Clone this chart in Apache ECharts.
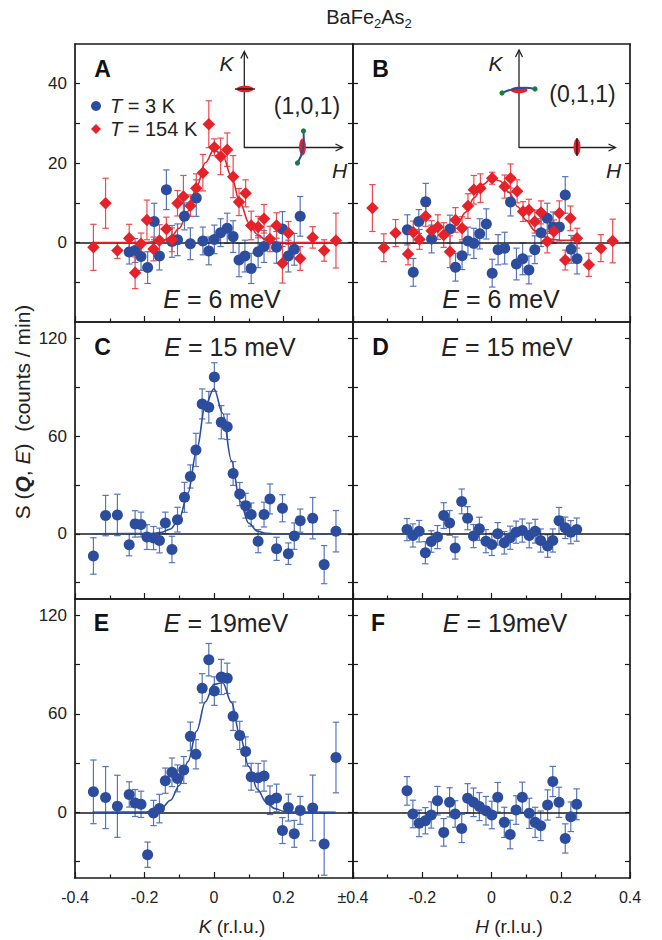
<!DOCTYPE html>
<html><head><meta charset="utf-8">
<script src="https://cdn.jsdelivr.net/npm/echarts@6/dist/echarts.min.js"></script>
<style>html,body{margin:0;padding:0;background:#fff}#c{width:662px;height:940px}</style>
</head><body><div id="c"></div>
<script>
// ---------- DATA ----------
// Panel A (K scan, E = 6 meV)
const kA_red = [-0.347,-0.312,-0.278,-0.244,-0.227,-0.210,-0.193,-0.174,-0.157,-0.137,-0.121,-0.105,-0.088,-0.068,-0.051,-0.032,-0.015,0.001,0.019,0.038,0.055,0.072,0.091,0.107,0.127,0.144,0.161,0.180,0.197,0.214,0.248,0.284,0.317,0.351];
const vA_red = [-1.2,9.9,-2.0,1.1,-7.6,-0.3,5.7,-1.6,0.5,3.4,0.7,9.9,11.6,9.3,13.7,17.6,29.8,24.0,21.7,23.4,16.6,10.2,12.4,4.3,3.9,6.0,0.9,4.3,-5.2,2.4,-4.0,1.3,-2.0,0.5];
const eA_red = [5.8,6.3,2.0,3.5,4.0,2.7,5.0,3.0,4.0,3.0,3.0,3.2,5.3,2.7,3.6,4.6,5.9,2.1,4.6,4.2,5.3,3.4,3.4,3.6,2.7,3.6,3.2,3.2,5.0,2.9,3.0,2.7,2.7,6.9];
const kA_blue = [-0.244,-0.227,-0.210,-0.191,-0.172,-0.157,-0.137,-0.121,-0.105,-0.085,-0.068,-0.051,-0.032,-0.015,0.001,0.019,0.038,0.055,0.072,0.089,0.107,0.127,0.144,0.180,0.197,0.214,0.231,0.248];
const vA_blue = [-2.4,-2.0,-3.5,-6.3,5.3,-3.4,13.3,0.3,0.7,6.6,-0.3,11.2,0.4,-2.1,0.8,2.5,3.6,1.5,-4.4,-3.4,-6.5,-2.3,-1.0,-1.2,3.4,-3.4,-1.7,6.6];
const eA_blue = [3.0,3.0,3.5,4.0,4.6,3.5,5.0,4.0,4.0,3.4,4.0,4.6,3.5,3.5,3.6,3.5,3.8,4.0,4.2,4.0,3.8,4.0,4.0,4.0,4.4,4.0,4.0,5.0];
const kA_fit = [-0.35,-0.2,-0.15,-0.125,-0.1,-0.075,-0.05,-0.025,0,0.025,0.05,0.075,0.1,0.125,0.15,0.175,0.2,0.35];
const vA_fit = [0,0,0.4,1.3,3.6,7.9,14.0,20.1,23.4,22.0,16.6,10.1,5.0,2.0,0.6,0.2,0,0];
// Panel B (H scan, E = 6 meV)
const hB_red = [-0.344,-0.311,-0.277,-0.241,-0.226,-0.208,-0.190,-0.173,-0.155,-0.138,-0.120,-0.104,-0.085,-0.068,-0.051,-0.032,0.002,0.038,0.055,0.074,0.091,0.108,0.125,0.143,0.161,0.180,0.196,0.213,0.228,0.247,0.281,0.316,0.350];
const vB_red = [8.7,-1.3,2.4,-2.9,2.6,0.8,6.6,3.0,3.9,1.9,-2.3,5.7,3.6,9.2,13.3,13.7,16.2,14.1,16.2,12.9,7.8,8.2,5.3,7.6,0.3,2.8,7.4,-4.4,6.1,1.1,-5.6,-1.4,0.4];
const eB_red = [5.9,3.5,3.4,2.7,2.8,2.5,2.5,2.5,3.1,3.1,4.0,3.1,2.9,3.1,3.6,3.6,1.5,2.9,3.6,2.9,2.5,2.7,2.9,2.9,2.9,2.9,3.1,2.5,3.1,2.5,2.9,3.4,5.5];
const hB_blue = [-0.243,-0.226,-0.210,-0.190,-0.173,-0.120,-0.104,-0.085,-0.068,-0.051,-0.034,-0.015,0.002,0.019,0.038,0.055,0.072,0.090,0.108,0.125,0.143,0.161,0.178,0.196,0.213,0.230,0.247];
const vB_blue = [3.2,-7.5,5.3,10.3,0.9,3.4,-6.2,-3.3,0.4,-0.2,2.2,4.7,-7.7,-1.8,-1.4,10.2,-5.4,-4.1,-6.9,-1.8,2.5,6.1,3.9,3.9,12.0,-1.7,-4.1];
const eB_blue = [3.8,3.5,3.0,4.6,3.5,3.5,3.5,3.5,3.5,3.8,3.8,3.8,3.5,3.8,4.0,3.5,4.0,4.0,3.5,3.5,3.5,3.8,3.8,3.5,4.6,3.5,3.8];
const hB_fit = [-0.13,-0.1,-0.075,-0.05,-0.025,0,0.025,0.05,0.075,0.1,0.125,0.15,0.175,0.2,0.247];
const vB_fit = [1.8,4.4,7.6,11.3,14.6,16.2,15.5,12.7,9.1,5.6,3.0,1.5,0.8,0.6,0.6];
// Panel C (K scan, E = 15 meV)
const kC = [-0.347,-0.312,-0.278,-0.244,-0.227,-0.210,-0.193,-0.174,-0.157,-0.140,-0.121,-0.105,-0.085,-0.068,-0.052,-0.034,-0.015,0.001,0.021,0.038,0.055,0.074,0.091,0.107,0.127,0.144,0.161,0.180,0.197,0.214,0.231,0.248,0.284,0.317,0.351];
const vC = [-13.6,11.2,11.6,-6.7,6.1,5.7,-2.0,-2.6,-4.1,6.7,-9.6,8.7,22.4,35.2,51.5,79.7,77.7,96.2,68.5,65.7,37.0,24.4,17.3,11.8,-4.5,11.8,21.4,-9.2,15.7,-12.2,-1.4,8.1,9.6,-18.9,1.6];
const eC = [11.2,12.4,12.7,6.8,8.1,7.6,7.6,7.1,7.6,6.6,8.1,7.6,9.2,7.1,10.2,9.2,9.7,8.8,10.2,7.8,7.3,7.1,7.6,7.1,7.1,7.6,9.2,7.1,8.3,6.6,8.1,7.1,12.7,11.7,12.7];
const kC_fit = [-0.35,-0.175,-0.15,-0.125,-0.1,-0.075,-0.05,-0.025,0,0.025,0.05,0.075,0.1,0.125,0.15,0.175,0.35];
const vC_fit = [0,0.2,1.0,3.0,9.5,25,51,79,89,74,45,20,6.5,1.6,0.3,0,0];
// Panel D (H scan, E = 15 meV)
const hD = [-0.244,-0.227,-0.209,-0.191,-0.174,-0.156,-0.138,-0.121,-0.105,-0.086,-0.069,-0.052,-0.035,-0.016,0.001,0.018,0.037,0.054,0.071,0.089,0.109,0.126,0.142,0.162,0.177,0.195,0.213,0.229,0.246];
const vD = [2.6,-1.0,1.6,-11.6,-4.7,-2.0,11.2,6.7,-8.7,19.9,9.6,-1.4,3.1,-4.5,-6.5,0,-5.5,-2.4,1.0,2.0,-1.0,1.6,-4.1,-7.5,-4.1,8.1,3.7,1.0,2.6];
const eD = [6.8,7.1,6.6,6.8,6.6,7.1,7.9,7.6,6.8,7.6,7.1,7.1,7.1,7.1,6.8,6.9,6.9,7.1,6.8,7.1,7.6,7.3,7.1,6.9,7.1,8.1,6.6,7.1,7.1];
// Panel E (K scan, E = 19 meV)
const kE = [-0.347,-0.312,-0.278,-0.244,-0.227,-0.210,-0.191,-0.174,-0.157,-0.140,-0.121,-0.105,-0.087,-0.068,-0.052,-0.034,-0.015,0.001,0.021,0.038,0.055,0.074,0.091,0.107,0.127,0.144,0.161,0.180,0.197,0.214,0.231,0.248,0.284,0.317,0.351];
const vE = [12.5,9.0,3.7,10.9,5.7,4.9,-25.8,-0.4,2.3,19.3,24.4,20.7,25.8,46.3,35.4,75.6,93.0,73.9,82.5,81.7,58.6,46.9,37.1,21.7,21.1,22.1,7.4,8.8,-11.1,2.9,-13.1,1.2,2.7,-19.3,33.4];
const eE = [19.4,18.9,18.9,7.7,8.2,8.0,7.7,7.7,8.7,7.7,8.7,8.2,8.2,8.7,8.9,8.9,9.9,8.7,10.7,9.2,8.7,8.6,8.9,8.2,8.7,9.2,8.7,8.4,7.9,8.2,8.2,8.5,20.0,19.0,21.5];
const kE_fit = [-0.35,-0.2,-0.175,-0.15,-0.125,-0.1,-0.075,-0.05,-0.025,0,0.025,0.05,0.075,0.1,0.125,0.15,0.175,0.2,0.225,0.35];
const vE_fit = [0,0.2,0.9,2.8,7.4,16.4,30.9,49.5,67.4,78,79,67,46.5,28,14.1,6.2,2.3,0.7,0.2,0];
// Panel F (H scan, E = 19 meV)
const hF = [-0.244,-0.227,-0.209,-0.191,-0.174,-0.156,-0.138,-0.121,-0.105,-0.086,-0.069,-0.052,-0.035,-0.016,0.001,0.018,0.037,0.054,0.071,0.089,0.109,0.126,0.142,0.162,0.177,0.195,0.213,0.229,0.246];
const vF = [13.1,-1.0,-6.7,-5.1,-1.6,7.1,-12.2,6.1,-1.0,-9.8,8.6,6.1,3.5,1.0,-1.6,9.2,-6.1,-13.5,1.4,9.2,-0.6,-6.1,-8.2,4.5,18.8,6.1,-15.9,-2.7,4.9];
const eF = [8.7,8.4,8.1,8.0,8.0,8.7,8.4,8.9,8.1,8.6,8.9,8.7,8.5,8.7,8.4,9.0,9.2,8.7,8.7,9.2,9.2,9.2,9.0,9.2,9.2,9.2,8.9,9.0,9.4];
// Ticks / labels
const yTicksTop = [-10,0,10,20,30,40];
const yLabelsTop = [0,20,40];
const yTicksLow = [-30,0,30,60,90,120];
const yLabelsLow = [0,60,120];

// ---------- STYLE ----------
const FONT = "'Liberation Sans', Arial, Helvetica, sans-serif";
const NARROW = "'Liberation Sans Narrow', 'Liberation Sans', Arial, sans-serif";
const BLUE = '#2c4d9e', BLUE_ERR = '#5875ba', RED = '#e5222a', RED_ERR = '#ee4a50', INK = '#1a1a1a';
const grids = [
  {left:75, top:44, width:278, height:278},
  {left:353, top:44, width:277, height:278},
  {left:75, top:322, width:278, height:277},
  {left:353, top:322, width:277, height:277},
  {left:75, top:599, width:278, height:279},
  {left:353, top:599, width:277, height:279}
];
const lineSt = {color:INK, width:1.7};

function fmtX(leftCol){
  return function(v){
    const r = Math.round(v*10)/10;
    if (Math.abs(r-0.4)<1e-6) return leftCol ? '±0.4' : '0.4';
    if (Math.abs(r+0.4)<1e-6) return leftCol ? '-0.4' : '';
    if (Math.abs(r)<1e-6) return '0';
    return r.toFixed(1);
  };
}
const xAxes = [], yAxes = [];
for (let g=0; g<6; g++){
  const leftCol = g%2===0, bottom = g>=4;
  xAxes.push({gridIndex:g, type:'value', min:-0.4, max:0.4, interval:0.2, position:'bottom',
    axisLine:{show:true, onZero:false, lineStyle:lineSt},
    axisTick:{show:true, inside:true, length:6, lineStyle:{color:INK, width:1.2}},
    minorTick:{show:true, splitNumber:2, length:3.5, lineStyle:{color:INK, width:1.2}},
    splitLine:{show:false}, minorSplitLine:{show:false},
    axisLabel:{show:bottom, margin:11, fontSize:16, color:'#222', fontFamily:FONT, formatter:fmtX(leftCol), showMinLabel:true, showMaxLabel:true}});
  xAxes.push({gridIndex:g, type:'value', min:-0.4, max:0.4, interval:0.2, position:'top',
    axisLine:{show:true, onZero:false, lineStyle:lineSt}, axisTick:{show:false}, axisLabel:{show:false}, splitLine:{show:false}});
  const top = g<2;
  const mn = top ? -20 : -40, mx = top ? 50 : 130;
  const tk = top ? yTicksTop : yTicksLow, lb = top ? yLabelsTop : yLabelsLow;
  yAxes.push({gridIndex:g, type:'value', min:mn, max:mx, position:'left',
    axisLine:{show:true, onZero:false, lineStyle:lineSt},
    axisTick:{show:true, inside:true, length:5, customValues:tk, lineStyle:{color:INK, width:1.2}},
    axisLabel:{show:leftCol, customValues:lb, margin:8, fontSize:17, color:'#222', fontFamily:FONT},
    splitLine:{show:false}});
  yAxes.push({gridIndex:g, type:'value', min:mn, max:mx, position:'right',
    axisLine:{show:true, onZero:false, lineStyle:lineSt},
    axisTick:{show:true, inside:true, length:5, customValues:tk, lineStyle:{color:INK, width:1.2}},
    axisLabel:{show:false}, splitLine:{show:false}});
}

const zip = (a,b)=>a.map((x,i)=>[x,b[i]]);
function errBars(g, xs, ys, es, color, zero){
  const s = {type:'custom', xAxisIndex:2*g, yAxisIndex:2*g, z:2, silent:true, clip:false,
    data: xs.map((x,i)=>[x, ys[i]-es[i], ys[i]+es[i]]),
    encode:{x:0, y:[1,2]},
    renderItem:function(params, api){
      const x = api.value(0);
      const p1 = api.coord([x, api.value(1)]), p2 = api.coord([x, api.value(2)]);
      const w = 3.2, st = {stroke:color, lineWidth:1.2};
      return {type:'group', children:[
        {type:'line', shape:{x1:p1[0], y1:p1[1], x2:p2[0], y2:p2[1]}, style:st},
        {type:'line', shape:{x1:p1[0]-w, y1:p1[1], x2:p1[0]+w, y2:p1[1]}, style:st},
        {type:'line', shape:{x1:p2[0]-w, y1:p2[1], x2:p2[0]+w, y2:p2[1]}, style:st}]};
    }};
  if (zero) s.markLine = {silent:true, z:2.5, symbol:'none', animation:false, label:{show:false},
    lineStyle:{color:INK, width:1.7, type:'solid'}, emphasis:{disabled:true}, data:[{yAxis:0}]};
  return s;
}
function pts(g, name, xs, ys, color, symbol, size){
  return {type:'scatter', name:name, xAxisIndex:2*g, yAxisIndex:2*g, z:4, symbol:symbol, symbolSize:size,
    itemStyle:{color:color, opacity:1}, data:zip(xs, ys), silent:true};
}
function fit(g, xs, ys, color){
  return {type:'line', xAxisIndex:2*g, yAxisIndex:2*g, z:3, showSymbol:false, smooth:0.35, smoothMonotone:'x',
    lineStyle:{color:color, width:1.6}, data:zip(xs, ys), silent:true};
}

const series = [
  errBars(0, kA_blue, vA_blue, eA_blue, BLUE_ERR, true),
  errBars(0, kA_red, vA_red, eA_red, RED_ERR, false),
  fit(0, kA_fit, vA_fit, RED),
  pts(0, 'T3', kA_blue, vA_blue, BLUE, 'circle', 11),
  pts(0, 'T154', kA_red, vA_red, RED, 'diamond', 12.5),
  errBars(1, hB_blue, vB_blue, eB_blue, BLUE_ERR, true),
  errBars(1, hB_red, vB_red, eB_red, RED_ERR, false),
  fit(1, hB_fit, vB_fit, RED),
  pts(1, 'B3', hB_blue, vB_blue, BLUE, 'circle', 11),
  pts(1, 'B154', hB_red, vB_red, RED, 'diamond', 12.5),
  errBars(2, kC, vC, eC, BLUE_ERR, true),
  fit(2, kC_fit, vC_fit, BLUE),
  pts(2, 'C', kC, vC, BLUE, 'circle', 11),
  errBars(3, hD, vD, eD, BLUE_ERR, true),
  pts(3, 'D', hD, vD, BLUE, 'circle', 11),
  errBars(4, kE, vE, eE, BLUE_ERR, true),
  fit(4, kE_fit, vE_fit, BLUE),
  pts(4, 'E', kE, vE, BLUE, 'circle', 11),
  errBars(5, hF, vF, eF, BLUE_ERR, true),
  pts(5, 'F', hF, vF, BLUE, 'circle', 11)
];

// ---------- ANNOTATIONS ----------
function txt(x, y, text, size, extra){
  return Object.assign({type:'text', x:x, y:y, z:20, silent:true,
    style:Object.assign({text:text, fontSize:size, fontFamily:FONT, fill:'#222', align:'center', verticalAlign:'middle'}, extra||{})});
}
const richE = {i:{fontStyle:'italic', fontSize:25, fontFamily:FONT, fill:'#222'}, n:{fontSize:25, fontFamily:FONT, fill:'#222'}};
const letter = (x,y,t)=>txt(x,y,t,23,{fontWeight:'bold', fontFamily:NARROW, fill:'#111'});
const energy = (x,y,t)=>txt(x,y,'{i|E}{n| = '+t+'}',25,{rich:richE});
const seg = (x1,y1,x2,y2,c,w)=>({type:'line', z:20, silent:true, shape:{x1,y1,x2,y2}, style:{stroke:c||'#222', lineWidth:w||1.3}});
const poly = (points,c,w)=>({type:'polyline', z:20, silent:true, shape:{points}, style:{stroke:c||'#222', lineWidth:w||1.3, fill:null}});
const ell = (cx,cy,rx,ry,c)=>({type:'ellipse', z:20, silent:true, shape:{cx,cy,rx,ry}, style:{fill:c, stroke:null}});
const dot = (cx,cy)=>({type:'circle', z:22, silent:true, shape:{cx,cy,r:2.6}, style:{fill:'#16803a'}});
const curve = (x1,y1,cx,cy,x2,y2)=>({type:'bezierCurve', z:21, silent:true, shape:{x1,y1,x2,y2,cpx1:cx,cpy1:cy}, style:{stroke:BLUE, lineWidth:2, fill:null}});

const graphic = [
  // title
  txt(369, 17, '{n|BaFe}{s|2}{n|As}{s|2}', 20, {rich:{n:{fontSize:20, fontFamily:FONT, fill:'#222', lineHeight:26}, s:{fontSize:13, fontFamily:FONT, fill:'#222', lineHeight:13, padding:[13,0,0,0]}}}),
  // panel letters
  letter(102.5,69,'A'), letter(380.5,69,'B'), letter(102.5,347,'C'), letter(380.5,347,'D'), letter(101.5,623,'E'), letter(378,623,'F'),
  // energies
  energy(222,299,'6 meV'), energy(501,299,'6 meV'), energy(230,347,'15 meV'), energy(507,347,'15 meV'), energy(226,623,'19meV'), energy(505,623,'19meV'),
  // axis names
  txt(232, 926, '{i|K}{n| (r.l.u.)}', 19, {rich:{i:{fontStyle:'italic', fontSize:19, fontFamily:FONT, fill:'#222'}, n:{fontSize:19, fontFamily:FONT, fill:'#222'}}}),
  txt(509, 926, '{i|H}{n| (r.l.u.)}', 19, {rich:{i:{fontStyle:'italic', fontSize:19, fontFamily:FONT, fill:'#222'}, n:{fontSize:19, fontFamily:FONT, fill:'#222'}}}),
  Object.assign(txt(22, 412, '{n|S (}{b|Q}{n|, }{i|E}{n|)  (counts / min)}', 21, {rich:{
      n:{fontSize:21, fontFamily:FONT, fill:'#222'},
      b:{fontSize:21, fontFamily:FONT, fill:'#222', fontWeight:'bold', fontStyle:'italic'},
      i:{fontSize:21, fontFamily:FONT, fill:'#222', fontStyle:'italic'}}}), {rotation:Math.PI/2}),
  // inset A
  seg(244.3,148,244.3,52), poly([[240.8,58.5],[244.3,51.5],[247.8,58.5]]),
  seg(244.3,147.5,342,147.5), poly([[335.5,144],[342.5,147.5],[335.5,151]]),
  txt(226.5,63,'K',21,{fontStyle:'italic'}), txt(339.5,170,'H',21,{fontStyle:'italic'}),
  ell(245,89,8.5,3.3,RED), seg(235,89,255,89,'#111',1.3),
  ell(302.5,147,3.4,8.5,RED), curve(303.5,131,305.5,150,297.5,163), dot(303.5,131), dot(297.5,163),
  txt(307,106,'(1,0,1)',23),
  // inset B
  seg(519,148,519,50), poly([[515.5,57],[519,50],[522.5,57]]),
  seg(519,147.5,615,147.5), poly([[608.5,144],[615.5,147.5],[608.5,151]]),
  txt(495.5,63,'K',21,{fontStyle:'italic'}), txt(613.5,170,'H',21,{fontStyle:'italic'}),
  ell(519,90,8.5,3.3,RED), curve(502,93,519,85,535,89), dot(502,93), dot(535,89),
  ell(577,147,3.4,8.5,RED), seg(577,138,577,156,'#111',1.3),
  txt(582.5,94,'(0,1,1)',23)
];

const chart = echarts.init(document.getElementById('c'), null, {renderer:'svg', width:662, height:940});
chart.setOption({
  animation:false,
  backgroundColor:'#fff',
  grid:grids,
  xAxis:xAxes,
  yAxis:yAxes,
  legend:{data:['T3','T154'], orient:'vertical', left:86, top:90, itemGap:1, itemWidth:10, itemHeight:10, selectedMode:false,
    formatter:function(n){ return n==='T3' ? '{i|T}{n| = 3 K}' : '{i|T}{n| = 154 K}'; },
    textStyle:{fontSize:20, fontFamily:FONT, color:'#222', lineHeight:22,
      rich:{i:{fontStyle:'italic', fontSize:20, fontFamily:FONT, color:'#222', padding:[0,0,0,4]}, n:{fontSize:20, fontFamily:FONT, color:'#222'}}}},
  series:series,
  graphic:graphic
});
</script>
</body></html>
